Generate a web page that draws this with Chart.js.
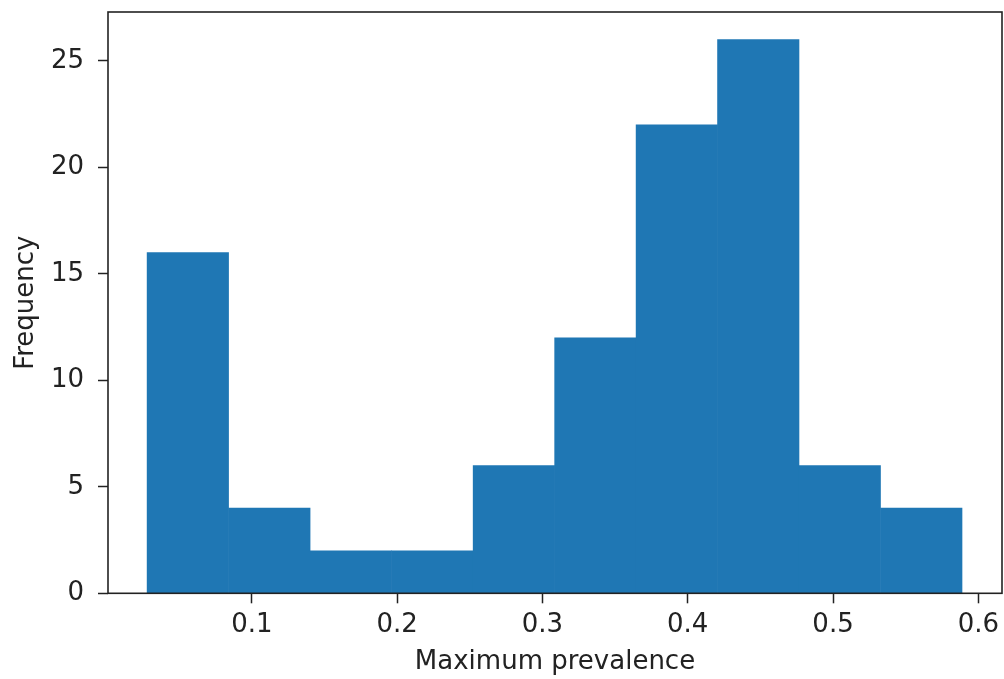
<!DOCTYPE html>
<html>
<head>
<meta charset="utf-8">
<script src="https://cdn.jsdelivr.net/npm/chart.js@4"></script>
<style>
  html, body { margin: 0; padding: 0; background: #fff; }
  #wrap { width: 1004px; height: 679px; }
</style>
</head>
<body>
<div id="wrap"><canvas id="histChart" width="1004" height="679"></canvas></div>
<script>
// histogram bins (edges) and counts
const binEdges = [0.0279, 0.0840, 0.1401, 0.1962, 0.2523, 0.3084, 0.3645, 0.4205, 0.4766, 0.5327, 0.5888]
const counts = [16, 4, 2, 2, 6, 12, 22, 26, 6, 4]
const xTicks = [0.1, 0.2, 0.3, 0.4, 0.5, 0.6]
const yTicks = [0, 5, 10, 15, 20, 25]

const xMin = 0.001
const xMax = 0.6163
const yMax = 27.3

const ctx = document.getElementById('histChart').getContext('2d')

const points = counts.map((c, i) => ({ x: (binEdges[i] + binEdges[i + 1]) / 2, y: c }))

const tickFont = { family: 'DejaVu Sans', size: 26 }
const textColor = '#222'

// ------- cadre autour de la zone de tracé -------
const framePlugin = {
  id: 'frame',
  afterDatasetsDraw(chart) {
    const { ctx, chartArea: a } = chart
    ctx.save()
    ctx.strokeStyle = '#222'
    ctx.lineWidth = 1.6
    ctx.strokeRect(a.left, a.top, a.right - a.left, a.bottom - a.top)
    ctx.restore()
  }
}

const chart = new Chart(ctx, {
  type: 'bar',
  data: {
    datasets: [{
      label: 'Maximum prevalence',
      data: points,
      backgroundColor: '#1f77b4',
      borderWidth: 0,
      barPercentage: 1,
      categoryPercentage: 1
    }]
  },
  options: {
    responsive: false,
    animation: false,
    layout: { padding: { top: 12, right: 2, left: 0, bottom: 0 } },
    plugins: {
      legend: { display: false },
      tooltip: { enabled: false }
    },
    scales: {
      x: {
        type: 'linear',
        min: xMin,
        max: xMax,
        offset: false,
        border: { display: false },
        grid: { offset: false, drawOnChartArea: false, drawTicks: true, tickLength: 10, tickWidth: 1.5, tickColor: '#222' },
        ticks: {
          font: tickFont,
          color: textColor,
          padding: 6,
          maxRotation: 0,
          callback: v => v.toFixed(1)
        },
        afterBuildTicks: scale => { scale.ticks = xTicks.map(v => ({ value: v })) },
        afterFit: scale => {
          scale.height = 85.7
          scale.paddingLeft = 0
          scale.paddingRight = 0
        },
        title: {
          display: true,
          text: 'Maximum prevalence',
          font: tickFont,
          color: textColor,
          padding: { top: 0, bottom: 1 }
        }
      },
      y: {
        min: 0,
        max: yMax,
        border: { display: false },
        grid: { drawOnChartArea: false, drawTicks: true, tickLength: 10, tickWidth: 1.5, tickColor: '#222' },
        ticks: {
          font: tickFont,
          color: textColor,
          padding: 14,
          includeBounds: false
        },
        afterBuildTicks: scale => { scale.ticks = yTicks.map(v => ({ value: v })) },
        afterFit: scale => {
          scale.width = 108
          scale.paddingTop = 0
          scale.paddingBottom = 0
        },
        title: {
          display: true,
          text: 'Frequency',
          font: tickFont,
          color: textColor,
          padding: { top: 11, bottom: 0 }
        }
      }
    }
  },
  plugins: [framePlugin]
})
</script>
</body>
</html>
